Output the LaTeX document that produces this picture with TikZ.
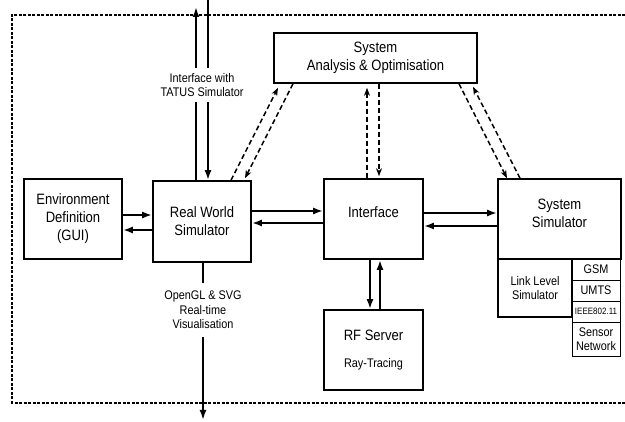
\documentclass[tikz,border=0pt]{standalone}
\usepackage{fontspec}
\setmainfont{Liberation Sans}[FakeStretch=0.87]
\usepackage{tikz}
\usetikzlibrary{arrows.meta, positioning}
\newcommand{\blockfont}{\fontsize{15}{18}\selectfont}
\newcommand{\notefont}{\fontsize{12.5}{14.5}\selectfont}
\newcommand{\tagfont}{\fontsize{9.2}{11}\selectfont}
\tikzset{
	block/.style = {shape=rectangle, draw, line width=1.6pt,
		align=center, font=\blockfont, inner sep=0pt},
	sub/.style   = {shape=rectangle, draw, line width=0.8pt, align=center,
		font=\notefont, inner sep=0pt, outer sep=0pt, minimum width=48pt},
	note/.style  = {fill=white, align=center, font=\notefont, inner xsep=2pt},
	flow/.style  = {-{Latex[length=10pt,width=7pt]}, line width=2.2pt},
	dflow/.style = {-{Stealth[length=8pt,width=6pt]}, line width=1.5pt,
		dash pattern=on 5pt off 3pt},
}
\tikzstyle{frame} = [draw, line width=1.2pt, dash pattern=on 3pt off 1.5pt]

\begin{document}
\begin{tikzpicture}[x=1pt, y=-1pt]
\useasboundingbox (0,0) rectangle (625,422);
\draw [frame] (625,15) -- (12,15) -- (12,403) -- (625,403);

% blocks
\node [block, minimum width=98pt, minimum height=80pt] (env) at (73,219)
	{Environment\\Definition\\(GUI)};
\node [block, minimum width=98pt, minimum height=81pt] (rws) at (202,221.5)
	{Real World\\Simulator};
\node [block, minimum width=203pt, minimum height=50pt] (sao) at (375.5,58)
	{System\\Analysis \& Optimisation};
\node [block, minimum width=99pt, minimum height=80pt, text depth=14pt] (iface) at (373.5,219)
	{Interface};
\node [block, minimum width=123pt, minimum height=80pt, text depth=11pt] (sys) at (559.5,219)
	{System\\Simulator};
\node [block, minimum width=99pt, minimum height=80pt] (rf) at (373.5,350)
	{RF Server\\[9pt]{\notefont Ray-Tracing}};

% link level part
\node [block, font=\notefont, minimum width=74pt, minimum height=58pt] (lls) at (535,288)
	{Link Level\\Simulator};
\node [sub, minimum height=21pt] (gsm) at (596,269.5) {GSM};
\node [sub, minimum height=21pt, below=0pt of gsm] (umts) {UMTS};
\node [sub, minimum height=21pt, below=0pt of umts, font=\tagfont] (ieee) {IEEE802.11};
\node [sub, minimum height=34pt, below=0pt of ieee] (sensor) {Sensor\\Network};

% solid links
\draw [flow] ([yshift=4pt]env.east) -- ([yshift=4pt]env.east -| rws.west);
\draw [flow] ([yshift=-11pt]env.east -| rws.west) -- ([yshift=-11pt]env.east);
\draw [flow] ([yshift=10.5pt]rws.east) -- ([yshift=10.5pt]rws.east -| iface.west);
\draw [flow] ([yshift=-1.5pt]rws.east -| iface.west) -- ([yshift=-1.5pt]rws.east);
\draw [flow] ([yshift=6pt]iface.east) -- ([yshift=6pt]iface.east -| sys.west);
\draw [flow] ([yshift=-7pt]iface.east -| sys.west) -- ([yshift=-7pt]iface.east);
\draw [flow] ([xshift=-3.5pt]iface.south) -- ([xshift=-3.5pt]iface.south |- rf.north);
\draw [flow] ([xshift=6.5pt]iface.south |- rf.north) -- ([xshift=6.5pt]iface.south);

% dashed links to analysis
\draw [dflow] ([xshift=29pt]rws.north) -- ([xshift=-97.5pt,yshift=-4pt]sao.south);
\draw [dflow] ([xshift=-82.5pt]sao.south) -- ([xshift=43pt,yshift=2pt]rws.north);
\draw [dflow] ([xshift=-6.5pt]iface.north) -- ([xshift=-6.5pt,yshift=-4pt]iface.north |- sao.south);
\draw [dflow] ([xshift=5.5pt]iface.north |- sao.south) -- ([xshift=5.5pt,yshift=2pt]iface.north);
\draw [dflow] ([xshift=83.5pt]sao.south) -- ([xshift=-52.5pt]sys.north);
\draw [dflow] ([xshift=-39.5pt]sys.north) -- ([xshift=97.5pt,yshift=-3pt]sao.south);

% outside world
\coordinate (tatusout) at (196,7);
\coordinate (tatusin) at (208,0);
\coordinate (visout) at (203,420);
\draw [flow] ([xshift=-6pt]rws.north) -- (tatusout);
\draw [flow] (tatusin) -- ([xshift=6pt]rws.north);
\draw [flow] ([xshift=1pt]rws.south) -- (visout);
\node [note, inner ysep=5pt] (tatus) at (202,85) {Interface with\\TATUS Simulator};
\node [note, inner ysep=8pt] (vis) at (203,310) {OpenGL \& SVG\\Real-time\\Visualisation};
\end{tikzpicture}
\end{document}
